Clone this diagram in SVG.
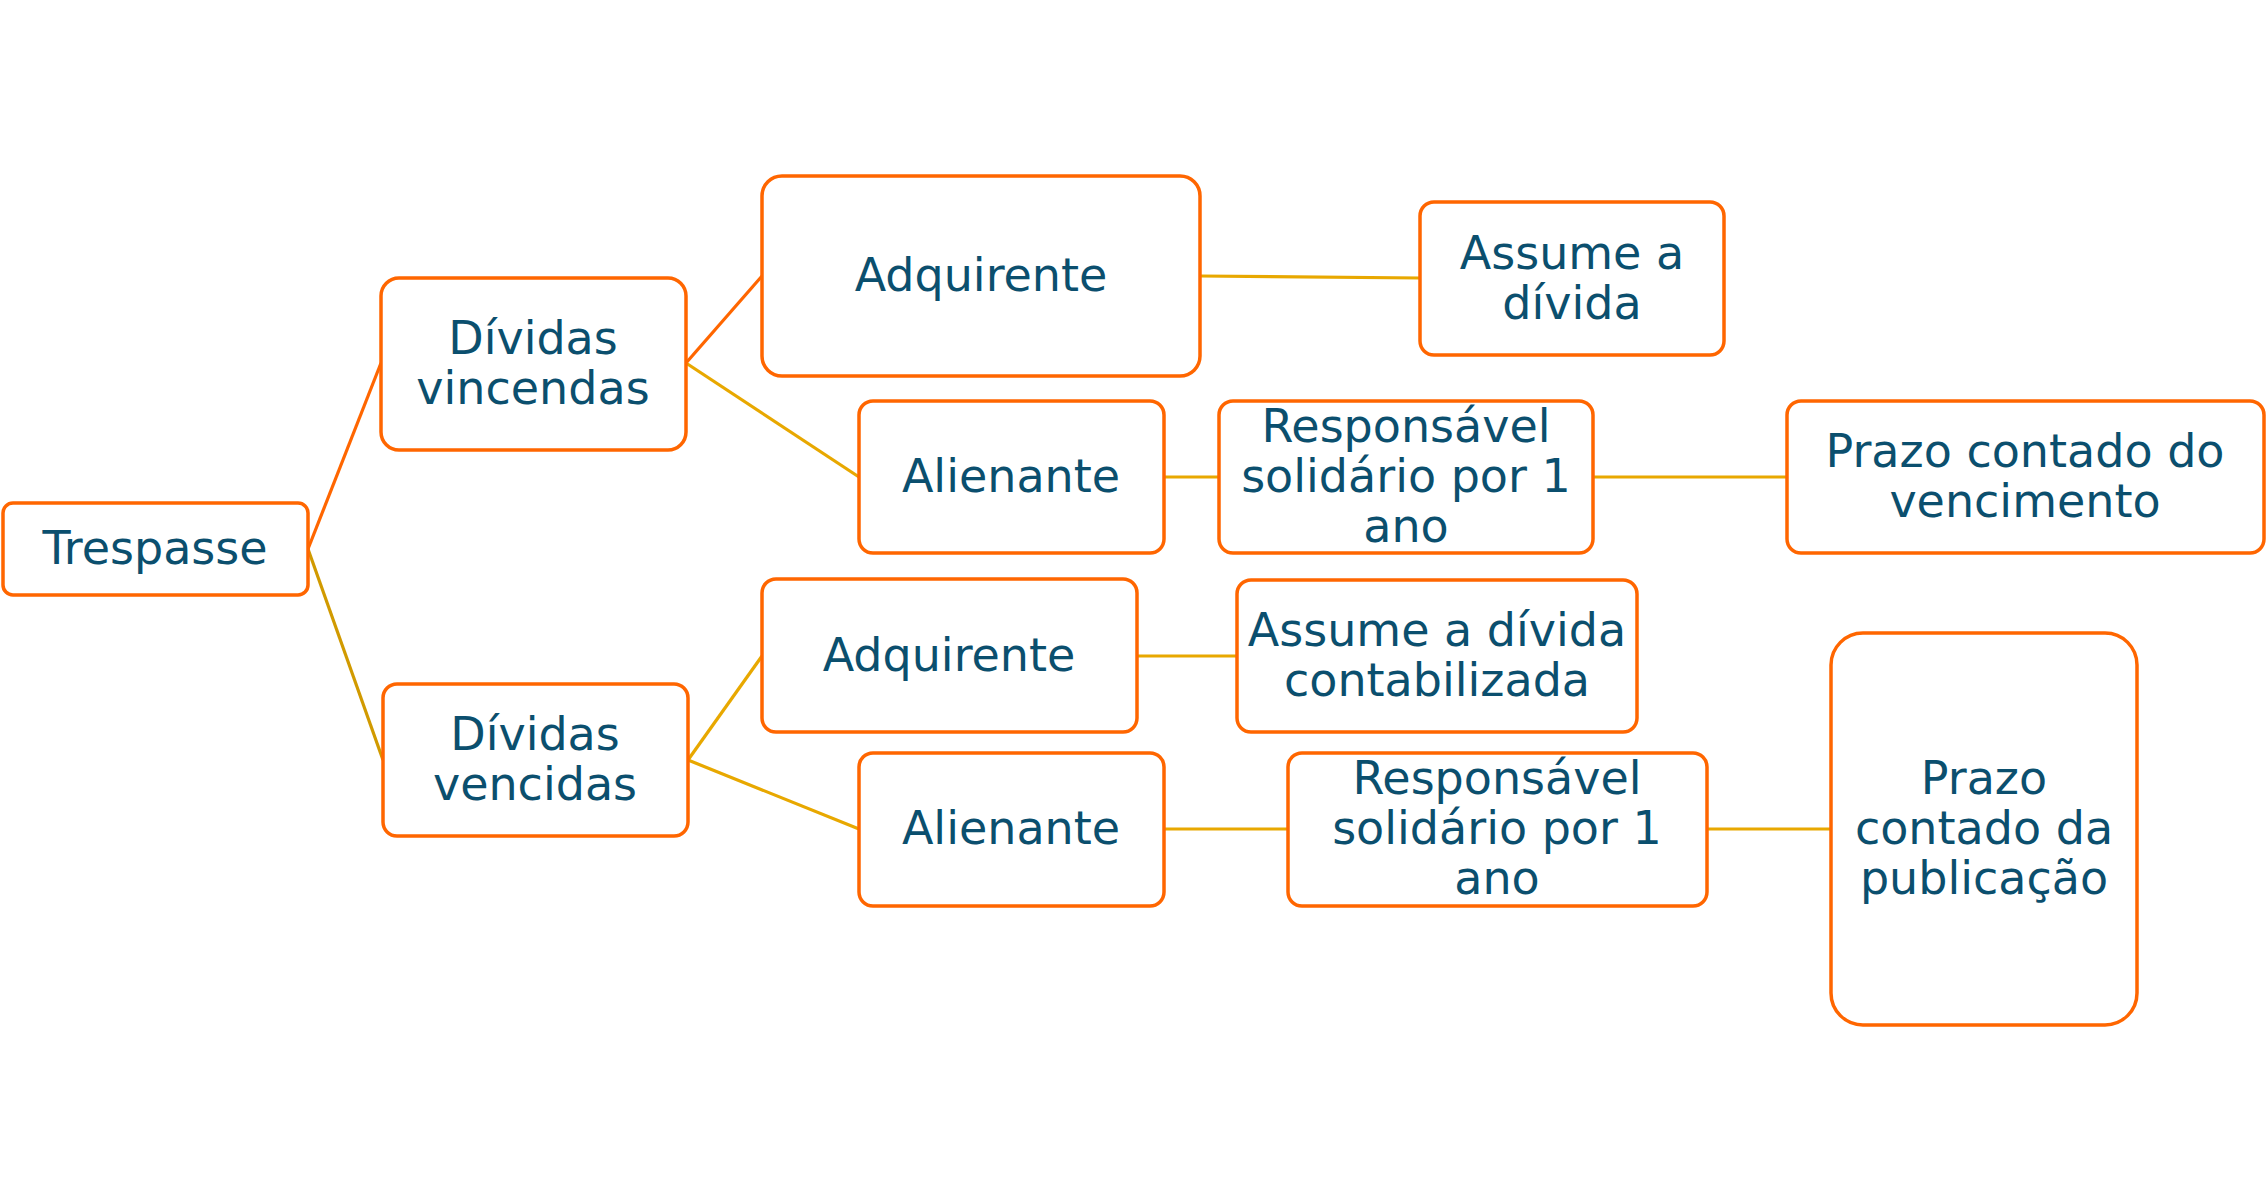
<svg xmlns="http://www.w3.org/2000/svg" width="2268" height="1204" viewBox="0 0 2268 1204">
<style>
.box{fill:#ffffff;stroke:#ff6600;stroke-width:3.5}
.t{font-family:"DejaVu Sans","Verdana",sans-serif;font-size:46px;fill:#0b4f6e;text-anchor:middle}
.co{fill:none;stroke:#ff6600;stroke-width:3.2}
.cg{fill:none;stroke:#e8a800;stroke-width:3.2}
.cd{fill:none;stroke:#d19a00;stroke-width:3.2}
</style>
<rect width="2268" height="1204" fill="#ffffff"/>
<g id="connectors">
<line class="co" x1="308" y1="549" x2="381" y2="363"/>
<line class="cd" x1="308" y1="549" x2="383" y2="760"/>
<line class="co" x1="686" y1="363" x2="762" y2="276"/>
<line class="cg" x1="686" y1="363" x2="859" y2="477"/>
<line class="cg" x1="1200" y1="276" x2="1420" y2="278"/>
<line class="cg" x1="1164" y1="477" x2="1219" y2="477"/>
<line class="cg" x1="1593" y1="477" x2="1787" y2="477"/>
<line class="cg" x1="688" y1="760" x2="762" y2="656"/>
<line class="cg" x1="688" y1="760" x2="859" y2="829"/>
<line class="cg" x1="1137" y1="656" x2="1237" y2="656"/>
<line class="cg" x1="1164" y1="829" x2="1288" y2="829"/>
<line class="cg" x1="1707" y1="829" x2="1831" y2="829"/>
</g>
<g id="n-trespasse">
<rect class="box" x="3" y="503" width="305" height="92" rx="10"/>
<text class="t" x="155" y="564">Trespasse</text>
</g>
<g id="n-vincendas">
<rect class="box" x="381" y="278" width="305" height="172" rx="18"/>
<text class="t" x="533" y="354">Dívidas</text>
<text class="t" x="533" y="404">vincendas</text>
</g>
<g id="n-adquirente1">
<rect class="box" x="762" y="176" width="438" height="200" rx="20"/>
<text class="t" x="981" y="291">Adquirente</text>
</g>
<g id="n-assume1">
<rect class="box" x="1420" y="202" width="304" height="153" rx="14"/>
<text class="t" x="1572" y="269">Assume a</text>
<text class="t" x="1572" y="319">dívida</text>
</g>
<g id="n-alienante1">
<rect class="box" x="859" y="401" width="305" height="152" rx="14"/>
<text class="t" x="1011" y="492">Alienante</text>
</g>
<g id="n-responsavel1">
<rect class="box" x="1219" y="401" width="374" height="152" rx="14"/>
<text class="t" x="1406" y="442">Responsável</text>
<text class="t" x="1406" y="492">solidário por 1</text>
<text class="t" x="1406" y="542">ano</text>
</g>
<g id="n-prazo1">
<rect class="box" x="1787" y="401" width="477" height="152" rx="14"/>
<text class="t" x="2025" y="467">Prazo contado do</text>
<text class="t" x="2025" y="517">vencimento</text>
</g>
<g id="n-vencidas">
<rect class="box" x="383" y="684" width="305" height="152" rx="14"/>
<text class="t" x="535" y="750">Dívidas</text>
<text class="t" x="535" y="800">vencidas</text>
</g>
<g id="n-adquirente2">
<rect class="box" x="762" y="579" width="375" height="153" rx="14"/>
<text class="t" x="949" y="671">Adquirente</text>
</g>
<g id="n-assume2">
<rect class="box" x="1237" y="580" width="400" height="152" rx="14"/>
<text class="t" x="1437" y="646">Assume a dívida</text>
<text class="t" x="1437" y="696">contabilizada</text>
</g>
<g id="n-alienante2">
<rect class="box" x="859" y="753" width="305" height="153" rx="14"/>
<text class="t" x="1011" y="844">Alienante</text>
</g>
<g id="n-responsavel2">
<rect class="box" x="1288" y="753" width="419" height="153" rx="14"/>
<text class="t" x="1497" y="794">Responsável</text>
<text class="t" x="1497" y="844">solidário por 1</text>
<text class="t" x="1497" y="894">ano</text>
</g>
<g id="n-prazo2">
<rect class="box" x="1831" y="633" width="306" height="392" rx="32"/>
<text class="t" x="1984" y="794">Prazo</text>
<text class="t" x="1984" y="844">contado da</text>
<text class="t" x="1984" y="894">publicação</text>
</g>
</svg>
